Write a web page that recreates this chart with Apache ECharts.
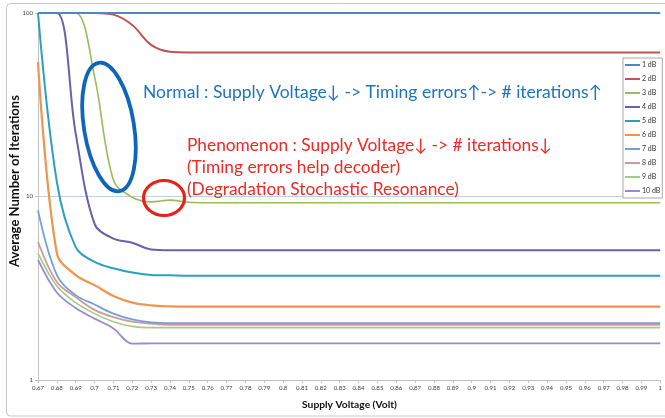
<!DOCTYPE html>
<html><head><meta charset="utf-8">
<script src="https://cdn.jsdelivr.net/npm/echarts@6/dist/echarts.min.js"></script>
<style>html,body{margin:0;padding:0;background:#fff}#c{width:665px;height:418px}</style>
</head><body><div id="c"></div>
<script>
var categories = ['0.67','0.68','0.69','0.7','0.71','0.72','0.73','0.74','0.75','0.76','0.77','0.78','0.79','0.8','0.81','0.82','0.83','0.84','0.85','0.86','0.87','0.88','0.89','0.9','0.91','0.92','0.93','0.94','0.95','0.96','0.97','0.98','0.99','1'];
var seriesNames = ['1 dB','2 dB','3 dB','4 dB','5 dB','6 dB','7 dB','8 dB','9 dB','10 dB'];
var db1 = [100,100,100,100,100,100,100,100,100,100,100,100,100,100,100,100,100,100,100,100,100,100,100,100,100,100,100,100,100,100,100,100,100,100];
var db2 = [100,100,100,100,98,86,67,61.5,61,61,61,61,61,61,61,61,61,61,61,61,61,61,61,61,61,61,61,61,61,61,61,61,61,61];
var db3 = [100,100,100,45,12.3,9.9,9.35,9.55,9.3,9.25,9.25,9.25,9.25,9.25,9.25,9.25,9.25,9.25,9.25,9.25,9.25,9.25,9.25,9.25,9.25,9.25,9.25,9.25,9.25,9.25,9.25,9.25,9.25,9.25];
var db4 = [100,100,22,7.1,5.9,5.6,5.15,5.1,5.1,5.1,5.1,5.1,5.1,5.1,5.1,5.1,5.1,5.1,5.1,5.1,5.1,5.1,5.1,5.1,5.1,5.1,5.1,5.1,5.1,5.1,5.1,5.1,5.1,5.1];
var db5 = [100,12,5.3,4.4,4.06,3.85,3.74,3.72,3.7,3.7,3.7,3.7,3.7,3.7,3.7,3.7,3.7,3.7,3.7,3.7,3.7,3.7,3.7,3.7,3.7,3.7,3.7,3.7,3.7,3.7,3.7,3.7,3.7,3.7];
var db6 = [54,4.9,3.73,3.29,2.87,2.64,2.55,2.52,2.51,2.51,2.51,2.51,2.51,2.51,2.51,2.51,2.51,2.51,2.51,2.51,2.51,2.51,2.51,2.51,2.51,2.51,2.51,2.51,2.51,2.51,2.51,2.51,2.51,2.51];
var db7 = [8.4,3.73,2.9,2.58,2.3,2.14,2.06,2.04,2.04,2.04,2.04,2.04,2.04,2.04,2.04,2.04,2.04,2.04,2.04,2.04,2.04,2.04,2.04,2.04,2.04,2.04,2.04,2.04,2.04,2.04,2.04,2.04,2.04,2.04];
var db8 = [5.67,3.42,2.83,2.41,2.2,2.08,2.03,2.0,2.0,2.0,2.0,2.0,2.0,2.0,2.0,2.0,2.0,2.0,2.0,2.0,2.0,2.0,2.0,2.0,2.0,2.0,2.0,2.0,2.0,2.0,2.0,2.0,2.0,2.0];
var db9 = [4.9,3.25,2.64,2.3,2.08,1.96,1.93,1.93,1.93,1.93,1.93,1.93,1.93,1.93,1.93,1.93,1.93,1.93,1.93,1.93,1.93,1.93,1.93,1.93,1.93,1.93,1.93,1.93,1.93,1.93,1.93,1.93,1.93,1.93];
var db10 = [4.51,3.0,2.47,2.16,1.91,1.578,1.585,1.585,1.585,1.585,1.585,1.585,1.585,1.585,1.585,1.585,1.585,1.585,1.585,1.585,1.585,1.585,1.585,1.585,1.585,1.585,1.585,1.585,1.585,1.585,1.585,1.585,1.585,1.585];
var allData = [db1,db2,db3,db4,db5,db6,db7,db8,db9,db10];
var colors = ['#4A8AC8','#BE5650','#9BBB59','#6E5FAA','#2E9FC4','#F0944E','#74A0D8','#D29A97','#A3CC88','#958CD2'];
var widths = [2,2,1.6,2,2,2.2,1.8,1.8,1.6,1.8];

var FONT = 'Lato, "Liberation Sans", sans-serif';
var mctx = document.createElement('canvas').getContext('2d');
function fitSize(text, weight, target) {
  mctx.font = weight + ' 20px ' + FONT;
  var w = mctx.measureText(text).width;
  return 20 * target / w;
}
var blueText = 'Normal : Supply Voltage\u2193 -> Timing errors\u2191-> # iterations\u2191';
var red1 = 'Phenomenon : Supply Voltage\u2193 -> # iterations\u2193';
var red2 = '(Timing errors help decoder)';
var red3 = '(Degradation Stochastic Resonance)';
var annSize = fitSize(red3, 'normal', 272);
var blueSize = fitSize(blueText, 'normal', 459);
var yTitle = 'Average Number of Iterations';
var xTitle = 'Supply Voltage (Volt)';
var yTitleSize = fitSize(yTitle, 'bold', 172);
var xTitleSize = fitSize(xTitle, 'bold', 95);
var tickSize = fitSize('0.67', 'normal', 12);

var chart = echarts.init(document.getElementById('c'), null, {renderer: 'canvas'});
var series = seriesNames.map(function (n, i) {
  return {
    name: n, type: 'line', data: allData[i], smooth: 0.35, showSymbol: false, symbol: 'none',
    clip: false, z: 10 - i,
    lineStyle: {color: colors[i], width: widths[i]}, itemStyle: {color: colors[i]}
  };
});
chart.setOption({
  backgroundColor: '#ffffff',
  animation: false,
  textStyle: {fontFamily: FONT},
  grid: {left: 38, right: 2, top: 13, bottom: 38, containLabel: false},
  xAxis: {
    type: 'category', data: categories, boundaryGap: false,
    axisLine: {lineStyle: {color: '#c4c4c4', width: 1}},
    axisTick: {show: true, interval: 0, length: 3, lineStyle: {color: '#c4c4c4'}},
    axisLabel: {interval: 0, fontSize: tickSize, color: '#404040', margin: 5, fontFamily: FONT},
    splitLine: {show: false}
  },
  yAxis: {
    type: 'log', logBase: 10, min: 1, max: 100,
    axisLine: {show: true, lineStyle: {color: '#c4c4c4', width: 1}},
    axisTick: {show: true, length: 3, lineStyle: {color: '#c4c4c4'}},
    axisLabel: {fontSize: tickSize, color: '#404040', margin: 5, fontFamily: FONT},
    splitLine: {show: true, lineStyle: {color: '#BBD3E6', width: 1}},
    minorTick: {show: false}
  },
  legend: {
    orient: 'vertical', left: 623, top: 58, width: 40,
    data: seriesNames, icon: 'rect', itemWidth: 15, itemHeight: 2, itemGap: 6,
    padding: [3, 2, 3, 2],
    backgroundColor: '#ffffff', borderColor: '#a8a8a8', borderWidth: 1,
    textStyle: {fontSize: 7, lineHeight: 8, color: '#333', fontFamily: FONT, padding: [0, 0, 0, -3]}
  },
  series: series,
  graphic: [
    {type: 'rect', silent: true, z: -10, shape: {x: 6.5, y: 3.5, width: 700, height: 412.5, r: 4},
     style: {fill: 'none', stroke: '#c8c8c8', lineWidth: 1}},
    {type: 'text', z: 100, x: 15, y: 181, rotation: Math.PI / 2,
     style: {text: yTitle, fontSize: yTitleSize, fontWeight: 'bold', fontFamily: FONT, fill: '#111', align: 'center', verticalAlign: 'middle'}},
    {type: 'text', z: 100, x: 349.5, y: 405,
     style: {text: xTitle, fontSize: xTitleSize, fontWeight: 'bold', fontFamily: FONT, fill: '#111', align: 'center', verticalAlign: 'middle'}},
    {type: 'text', z: 100, x: 143, y: 92,
     style: {text: blueText, fontSize: blueSize, fontFamily: FONT, fill: '#1F73C2', align: 'left', verticalAlign: 'middle'}},
    {type: 'text', z: 100, x: 187, y: 145,
     style: {text: red1, fontSize: annSize, fontFamily: FONT, fill: '#EE2A24', align: 'left', verticalAlign: 'middle'}},
    {type: 'text', z: 100, x: 187, y: 167,
     style: {text: red2, fontSize: annSize, fontFamily: FONT, fill: '#EE2A24', align: 'left', verticalAlign: 'middle'}},
    {type: 'text', z: 100, x: 187, y: 189,
     style: {text: red3, fontSize: annSize, fontFamily: FONT, fill: '#EE2A24', align: 'left', verticalAlign: 'middle'}},
    {type: 'ellipse', z: 100, x: 109, y: 127, rotation: 0.16,
     shape: {cx: 0, cy: 0, rx: 25, ry: 65},
     style: {fill: 'none', stroke: '#0E66BA', lineWidth: 3.8}},
    {type: 'ellipse', z: 100, x: 164, y: 198,
     shape: {cx: 0, cy: 0, rx: 20.5, ry: 17.5},
     style: {fill: 'none', stroke: '#E8201B', lineWidth: 3.2}}
  ]
});
</script></body></html>
